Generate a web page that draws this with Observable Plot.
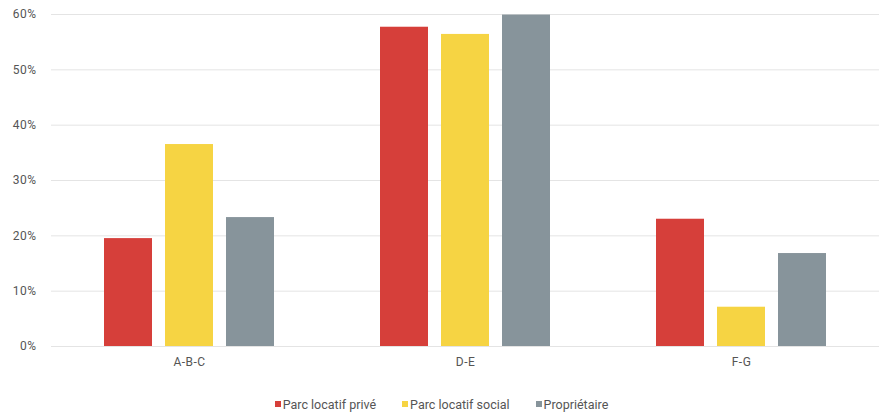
<!DOCTYPE html>
<html>
<head>
<meta charset="utf-8">
<script src="https://cdn.jsdelivr.net/npm/d3@7"></script>
<script src="https://cdn.jsdelivr.net/npm/@observablehq/plot@0.6"></script>
<style>
  html, body { margin: 0; padding: 0; background: #fff; }
  body { width: 883px; height: 416px; overflow: hidden; font-family: Roboto, "Noto Sans", sans-serif; }
  #legend { display: flex; justify-content: center; gap: 26px; font-size: 12.5px; color: #555; margin-top: 17px; padding-left: 0px; }
  #legend span.sw { display: inline-block; width: 6px; height: 6px; margin-right: 2px; vertical-align: 2px; }
</style>
</head>
<body>
<div id="chart"></div>
<div id="legend"></div>
<script>
const categories = ["A-B-C", "D-E", "F-G"];
const series = ["Parc locatif privé", "Parc locatif social", "Propriétaire"];
const colors = ["#d63f3a", "#f6d443", "#87949b"];
const valuesPrive = [19.5, 57.7, 23.0];
const valuesSocial = [36.5, 56.4, 7.1];
const valuesProprio = [23.3, 59.9, 16.8];
const yTicks = [0, 10, 20, 30, 40, 50, 60];

const allValues = [valuesPrive, valuesSocial, valuesProprio];
const data = [];
categories.forEach((c, i) => {
  series.forEach((s, j) => data.push({category: c, series: s, value: allValues[j][i]}));
});

const chart = Plot.plot({
  width: 883,
  height: 380,
  marginLeft: 50,
  marginRight: 3,
  marginTop: 14,
  marginBottom: 34,
  style: {fontFamily: "Roboto, 'Noto Sans', sans-serif", fontSize: "12px", color: "#555"},
  fx: {domain: categories, padding: 0, label: null, axis: "bottom", tickSize: 0, tickPadding: 11},
  x: {domain: series, paddingInner: 0.22, paddingOuter: 0.86, axis: null},
  y: {domain: [0, 60], ticks: yTicks, label: null, tickSize: 0, tickPadding: 15, tickFormat: d => d + "%"},
  color: {domain: series, range: colors},
  marks: [
    Plot.ruleY(yTicks, {stroke: "#e4e4e4", strokeWidth: 1}),
    Plot.barY(data, {fx: "category", x: "series", y: "value", fill: "series"})
  ]
});
chart.querySelectorAll("text").forEach(t => { t.setAttribute("fill", "#555"); t.style.letterSpacing = "0.5px"; });
document.getElementById("chart").appendChild(chart);

const legend = document.getElementById("legend");
series.forEach((s, i) => {
  const item = document.createElement("div");
  item.innerHTML = `<span class="sw" style="background:${colors[i]}"></span>${s}`;
  legend.appendChild(item);
});
</script>
</body>
</html>
